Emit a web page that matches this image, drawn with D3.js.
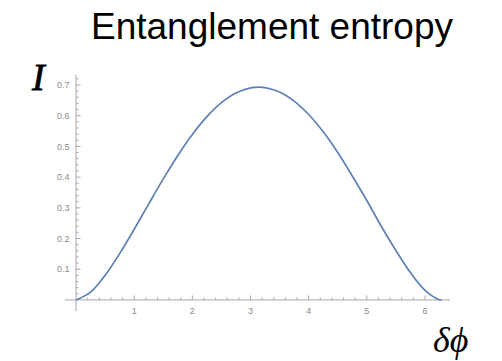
<!DOCTYPE html>
<html>
<head>
<meta charset="utf-8">
<script src="https://cdn.jsdelivr.net/npm/d3@7"></script>
<style>
    body { margin: 0; background: #fff; }
    svg { display: block; }
</style>
</head>
<body>
<div id="chart"></div>
<script>
// Phase difference samples (x) and entanglement entropy (y)
const deltaPhi = [0, 0.25, 0.5, 0.75, 1, 1.25, 1.5, 1.75, 2, 2.25, 2.5, 2.75, 3, 3.1416,
    3.25, 3.5, 3.75, 4, 4.25, 4.5, 4.75, 5, 5.25, 5.5, 5.75, 6, 6.25, 6.2832];
const entropy = [0, 0.0255, 0.0802, 0.1509, 0.2303, 0.3129, 0.3942, 0.4707, 0.5391, 0.5971,
    0.6426, 0.6741, 0.6907, 0.6931, 0.6917, 0.6772, 0.6476, 0.6039, 0.5477, 0.4802,
    0.4038, 0.3238, 0.2392, 0.1611, 0.0890, 0.0315, 0.0007, 0];

const xTicks = [1, 2, 3, 4, 5, 6];
const yTicks = [0.1, 0.2, 0.3, 0.4, 0.5, 0.6, 0.7];
const xMinor = d3.range(0, 32).map(i => +(i * 0.2).toFixed(1)).filter(v => v % 1 !== 0);
const yMinor = d3.range(0, 37).map(i => +(i * 0.02).toFixed(2)).filter(v => Math.round(v * 100) % 10 !== 0);

const width = 502, height = 361;
const axisColor = '#a8a8a8';
const labelColor = '#8a8a8a';

const svg = d3.select('#chart')
    .append('svg')
    .attr('width', width)
    .attr('height', height);

// Plot range includes Mathematica-style padding around the data
const x = d3.scaleLinear().domain([-0.19, 6.43]).range([65, 450]);
const y = d3.scaleLinear().domain([-0.036, 0.7326]).range([311, 75]);

// Axes lines
svg.append('line')
    .attr('x1', x(-0.19)).attr('x2', x(6.43))
    .attr('y1', y(0)).attr('y2', y(0))
    .attr('stroke', axisColor).attr('stroke-width', 1);

svg.append('line')
    .attr('x1', x(0)).attr('x2', x(0))
    .attr('y1', y(-0.036)).attr('y2', y(0.7326))
    .attr('stroke', axisColor).attr('stroke-width', 1);

// X ticks (pointing up)
svg.append('g').selectAll('line.xmaj')
    .data(xTicks).enter().append('line')
    .attr('x1', d => x(d)).attr('x2', d => x(d))
    .attr('y1', y(0)).attr('y2', y(0) - 4.5)
    .attr('stroke', axisColor);

svg.append('g').selectAll('line.xmin')
    .data(xMinor).enter().append('line')
    .attr('x1', d => x(d)).attr('x2', d => x(d))
    .attr('y1', y(0)).attr('y2', y(0) - 2.5)
    .attr('stroke', axisColor);

// Y ticks (pointing right)
svg.append('g').selectAll('line.ymaj')
    .data(yTicks).enter().append('line')
    .attr('x1', x(0)).attr('x2', x(0) + 4.5)
    .attr('y1', d => y(d)).attr('y2', d => y(d))
    .attr('stroke', axisColor);

svg.append('g').selectAll('line.ymin')
    .data(yMinor).enter().append('line')
    .attr('x1', x(0)).attr('x2', x(0) + 2.5)
    .attr('y1', d => y(d)).attr('y2', d => y(d))
    .attr('stroke', axisColor);

// Tick labels
svg.append('g').selectAll('text')
    .data(xTicks).enter().append('text')
    .attr('x', d => x(d))
    .attr('y', y(0) + 14.5)
    .attr('text-anchor', 'middle')
    .style('font-family', '"Liberation Sans", Arial, sans-serif')
    .style('font-size', '9px')
    .style('fill', labelColor)
    .text(d => d);

svg.append('g').selectAll('text')
    .data(yTicks).enter().append('text')
    .attr('x', x(0) - 6.5)
    .attr('y', d => y(d))
    .attr('dy', '0.35em')
    .attr('text-anchor', 'end')
    .style('font-family', '"Liberation Sans", Arial, sans-serif')
    .style('font-size', '9px')
    .style('fill', labelColor)
    .text(d => d.toFixed(1));

// Curve
const line = d3.line()
    .x((d, i) => x(deltaPhi[i]))
    .y(d => y(d))
    .curve(d3.curveCatmullRom);

svg.append('path')
    .datum(entropy)
    .attr('d', line)
    .attr('fill', 'none')
    .attr('stroke', '#5E81B5')
    .attr('stroke-width', 1.7);

// Title and axis labels
svg.append('text')
    .attr('x', 91)
    .attr('y', 39)
    .style('font-family', '"Liberation Sans", Arial, Helvetica, sans-serif')
    .style('font-size', '37px')
    .style('fill', '#000')
    .text('Entanglement entropy');

svg.append('text')
    .attr('x', 32)
    .attr('y', 90)
    .style('font-family', '"Liberation Serif", "Times New Roman", serif')
    .style('font-style', 'italic')
    .style('font-size', '38px')
    .style('fill', '#000')
    .style('stroke', '#000')
    .style('stroke-width', 0.8)
    .text('I');

svg.append('text')
    .attr('x', 433)
    .attr('y', 352)
    .style('font-family', '"Liberation Serif", "DejaVu Serif", serif')
    .style('font-style', 'italic')
    .style('font-size', '36px')
    .style('fill', '#000')
    .text('δϕ');
</script>
</body>
</html>
